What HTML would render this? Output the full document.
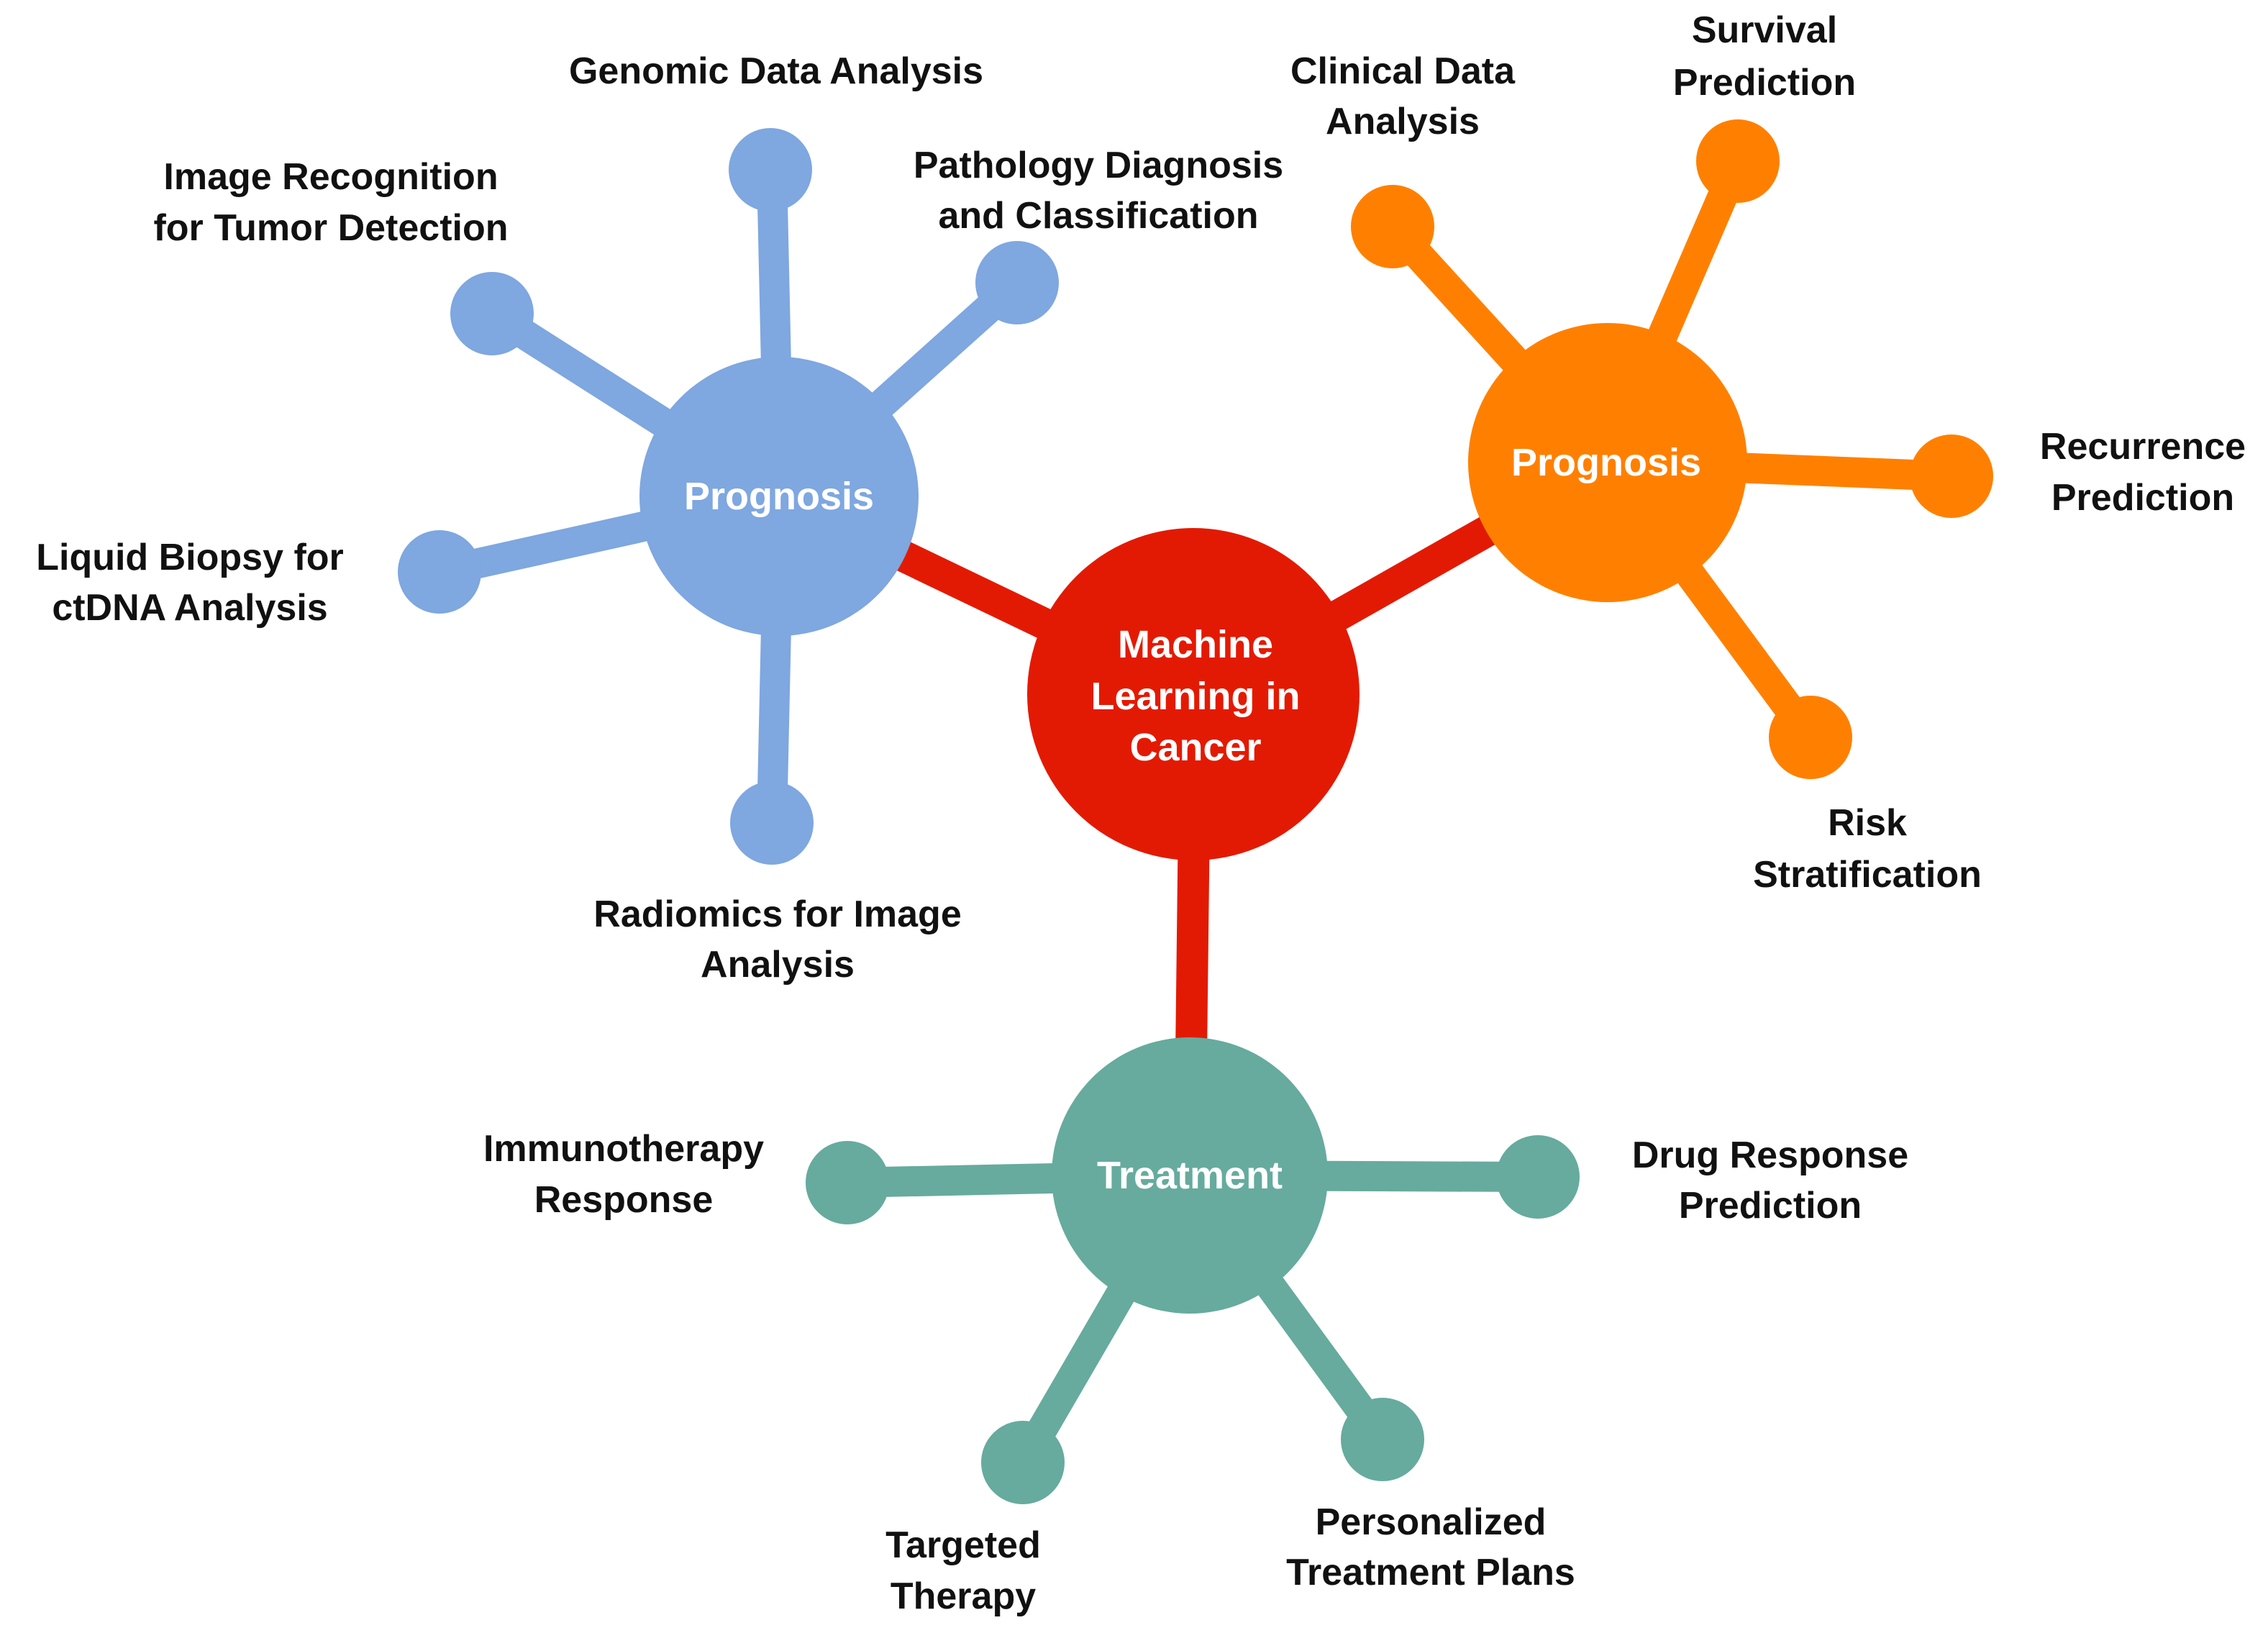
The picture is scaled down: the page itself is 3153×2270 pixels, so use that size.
<!DOCTYPE html>
<html><head><meta charset="utf-8"><style>
html,body{margin:0;padding:0;background:#fff;}
svg{display:block;}
text{font-family:"Liberation Sans",Arial,sans-serif;font-weight:bold;}
</style></head><body>
<svg width="3153" height="2270" viewBox="0 0 3153 2270" xmlns="http://www.w3.org/2000/svg">
<g stroke-linecap="butt">
<g stroke="#e31a03" stroke-width="44">
<line x1="1662" y1="968" x2="1083" y2="690"/>
<line x1="1662" y1="968" x2="2235" y2="643"/>
<line x1="1662" y1="968" x2="1654" y2="1634"/>
</g>
<g stroke="#7fa7e0" stroke-width="42">
<line x1="1083" y1="690" x2="1073" y2="238"/>
<line x1="1083" y1="690" x2="1414" y2="393"/>
<line x1="1083" y1="690" x2="684" y2="436"/>
<line x1="1083" y1="690" x2="611" y2="795"/>
<line x1="1083" y1="690" x2="1073" y2="1144"/>
</g>
<g stroke="#ff8000" stroke-width="42">
<line x1="2235" y1="643" x2="1936" y2="315"/>
<line x1="2235" y1="643" x2="2416" y2="224"/>
<line x1="2235" y1="643" x2="2713" y2="662"/>
<line x1="2235" y1="643" x2="2517" y2="1025"/>
</g>
<g stroke="#66ab9e" stroke-width="42">
<line x1="1654" y1="1634" x2="1178" y2="1644"/>
<line x1="1654" y1="1634" x2="2138" y2="1636"/>
<line x1="1654" y1="1634" x2="1422" y2="2033"/>
<line x1="1654" y1="1634" x2="1922" y2="2001"/>
</g>
</g>
<circle cx="1659" cy="965" r="231" fill="#e31a03"/>
<g fill="#7fa7e0">
<circle cx="1083" cy="690" r="194"/>
<circle cx="1071" cy="236" r="58"/>
<circle cx="1414" cy="393" r="58"/>
<circle cx="684" cy="436" r="58"/>
<circle cx="611" cy="795" r="58"/>
<circle cx="1073" cy="1144" r="58"/>
</g>
<g fill="#ff8000">
<circle cx="2235" cy="643" r="194"/>
<circle cx="1936" cy="315" r="58"/>
<circle cx="2416" cy="224" r="58"/>
<circle cx="2713" cy="662" r="58"/>
<circle cx="2517" cy="1025" r="58"/>
</g>
<g fill="#66ab9e">
<circle cx="1654" cy="1634" r="192"/>
<circle cx="1178" cy="1644" r="58"/>
<circle cx="2138" cy="1636" r="58"/>
<circle cx="1422" cy="2033" r="58"/>
<circle cx="1922" cy="2001" r="58"/>
</g>
<g fill="#fff" font-size="54" text-anchor="middle" dominant-baseline="central">
<text x="1662" y="896">Machine</text>
<text x="1662" y="968">Learning  in</text>
<text x="1662" y="1039">Cancer</text>
<text x="1083" y="690">Prognosis</text>
<text x="2233" y="643">Prognosis</text>
<text x="1654" y="1634">Treatment</text>
</g>
<g fill="#111" font-size="52" text-anchor="middle" dominant-baseline="central">
<text x="1079" y="99">Genomic Data Analysis</text>
<text x="460" y="246">Image Recognition</text>
<text x="460" y="317">for Tumor Detection</text>
<text x="1527" y="230">Pathology Diagnosis</text>
<text x="1527" y="300">and Classification</text>
<text x="264" y="775">Liquid Biopsy for</text>
<text x="264" y="845">ctDNA Analysis</text>
<text x="1081" y="1271">Radiomics for Image</text>
<text x="1081" y="1341">Analysis</text>
<text x="1950" y="99">Clinical Data</text>
<text x="1950" y="169">Analysis</text>
<text x="2453" y="42">Survival</text>
<text x="2453" y="115">Prediction</text>
<text x="2979" y="621">Recurrence</text>
<text x="2979" y="692">Prediction</text>
<text x="2596" y="1144">Risk</text>
<text x="2596" y="1216">Stratification</text>
<text x="867" y="1597">Immunotherapy</text>
<text x="867" y="1668">Response</text>
<text x="2461" y="1606">Drug Response</text>
<text x="2461" y="1676">Prediction</text>
<text x="1339" y="2148">Targeted</text>
<text x="1339" y="2219">Therapy</text>
<text x="1989" y="2116">Personalized</text>
<text x="1989" y="2186">Treatment Plans</text>
</g>
</svg>
</body></html>
